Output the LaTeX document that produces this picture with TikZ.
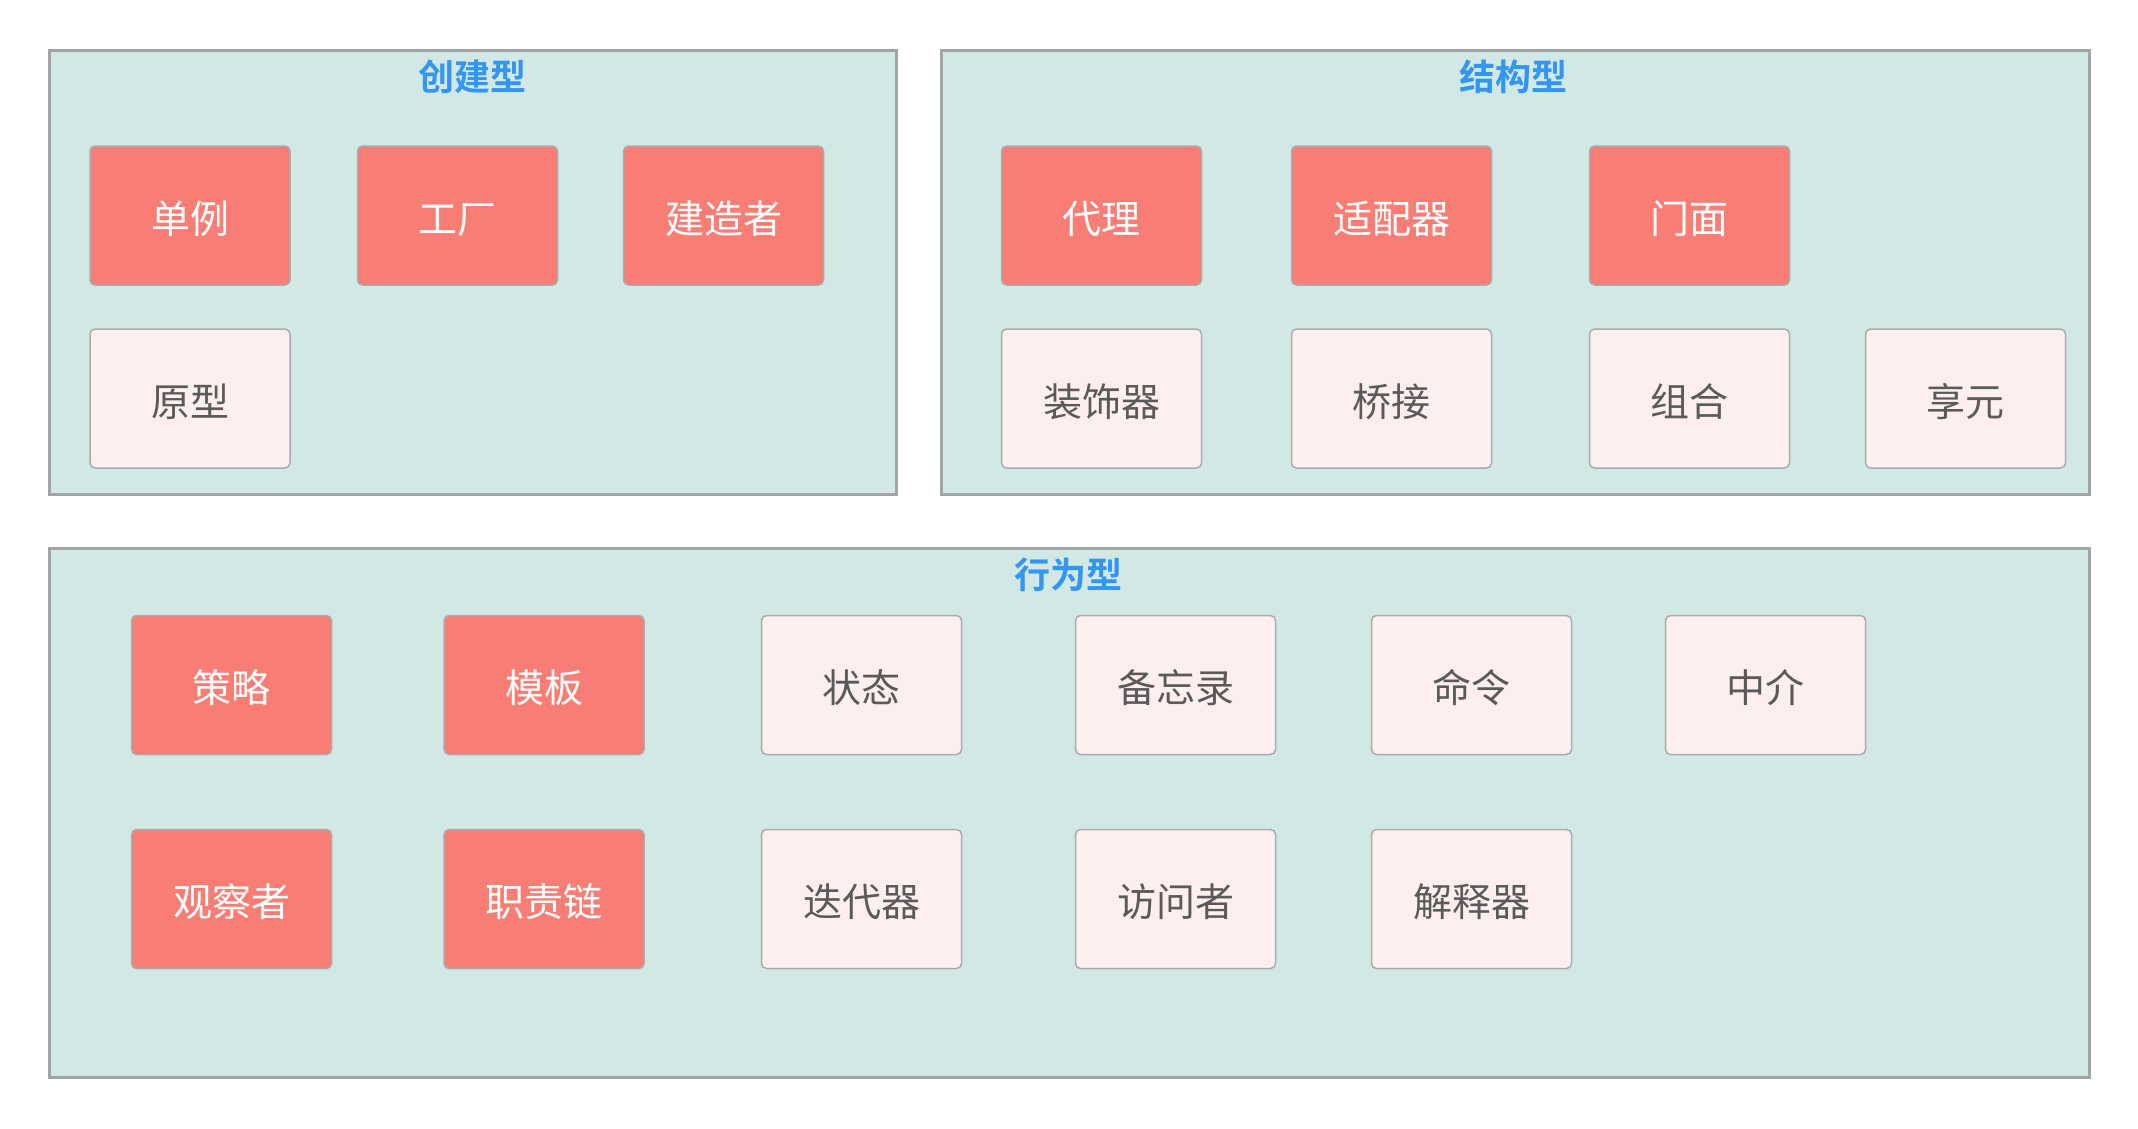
\documentclass[tikz,border=0pt]{standalone}
\usepackage{fontspec}
\newfontfamily\cjk{Noto Sans CJK SC}
\newfontfamily\cjkb{Noto Sans CJK SC Bold}
\definecolor{groupfill}{HTML}{D1E8E5}
\definecolor{groupline}{HTML}{A2A5A5}
\definecolor{hotfill}{HTML}{F87D75}
\definecolor{coolfill}{HTML}{FDEFEF}
\definecolor{boxline}{HTML}{ABABAB}
\definecolor{titleblue}{HTML}{3396F2}
\definecolor{darktext}{HTML}{5A5A5A}
\begin{document}
\begin{tikzpicture}[x=1pt,y=-1pt,
  group/.style={draw=groupline,fill=groupfill,line width=3pt},
  grouptitle/.style={font=\cjkb\fontsize{36}{40}\selectfont,text=titleblue,inner sep=0pt},
  pattern/.style={draw=boxline,line width=1.5pt,rounded corners=5pt,minimum width=200pt,minimum height=139pt,inner sep=0pt,text height=38pt,text depth=3pt,font=\cjk\fontsize{39}{44}\selectfont},
  hot/.style={pattern,fill=hotfill,text=white},
  cool/.style={pattern,fill=coolfill,text=darktext}]
\useasboundingbox (0,0) rectangle (2138,1128);
\fill[white] (0,0) rectangle (2138,1128);
% groups
\draw[group] (49,50) rectangle (896,494);
\draw[group] (941,50) rectangle (2089,494);
\draw[group] (49,548) rectangle (2089,1077);
\node[grouptitle] (tA) at (472,77) {创建型};
\node[grouptitle] (tB) at (1513,77) {结构型};
\node[grouptitle] (tC) at (1068,575) {行为型};
% creational
\node[hot]  (singleton) at (190,215.5) {单例};
\node[hot]  (factory)   at (457.5,215.5) {工厂};
\node[hot]  (builder)   at (723.5,215.5) {建造者};
\node[cool] (prototype) at (190,398.5) {原型};
% structural
\node[hot]  (proxy)     at (1101.5,215.5) {代理};
\node[hot]  (adapter)   at (1391.5,215.5) {适配器};
\node[hot]  (facade)    at (1689.5,215.5) {门面};
\node[cool] (decorator) at (1101.5,398.5) {装饰器};
\node[cool] (bridge)    at (1391.5,398.5) {桥接};
\node[cool] (composite) at (1689.5,398.5) {组合};
\node[cool] (flyweight) at (1965.5,398.5) {享元};
% behavioral
\node[hot]  (strategy)  at (231.5,685) {策略};
\node[hot]  (template)  at (544,685) {模板};
\node[cool] (state)     at (861.5,685) {状态};
\node[cool] (memento)   at (1175.5,685) {备忘录};
\node[cool] (command)   at (1471.5,685) {命令};
\node[cool] (mediator)  at (1765.5,685) {中介};
\node[hot]  (observer)  at (231.5,899) {观察者};
\node[hot]  (chain)     at (544,899) {职责链};
\node[cool] (iterator)  at (861.5,899) {迭代器};
\node[cool] (visitor)   at (1175.5,899) {访问者};
\node[cool] (interp)    at (1471.5,899) {解释器};
\end{tikzpicture}
\end{document}
